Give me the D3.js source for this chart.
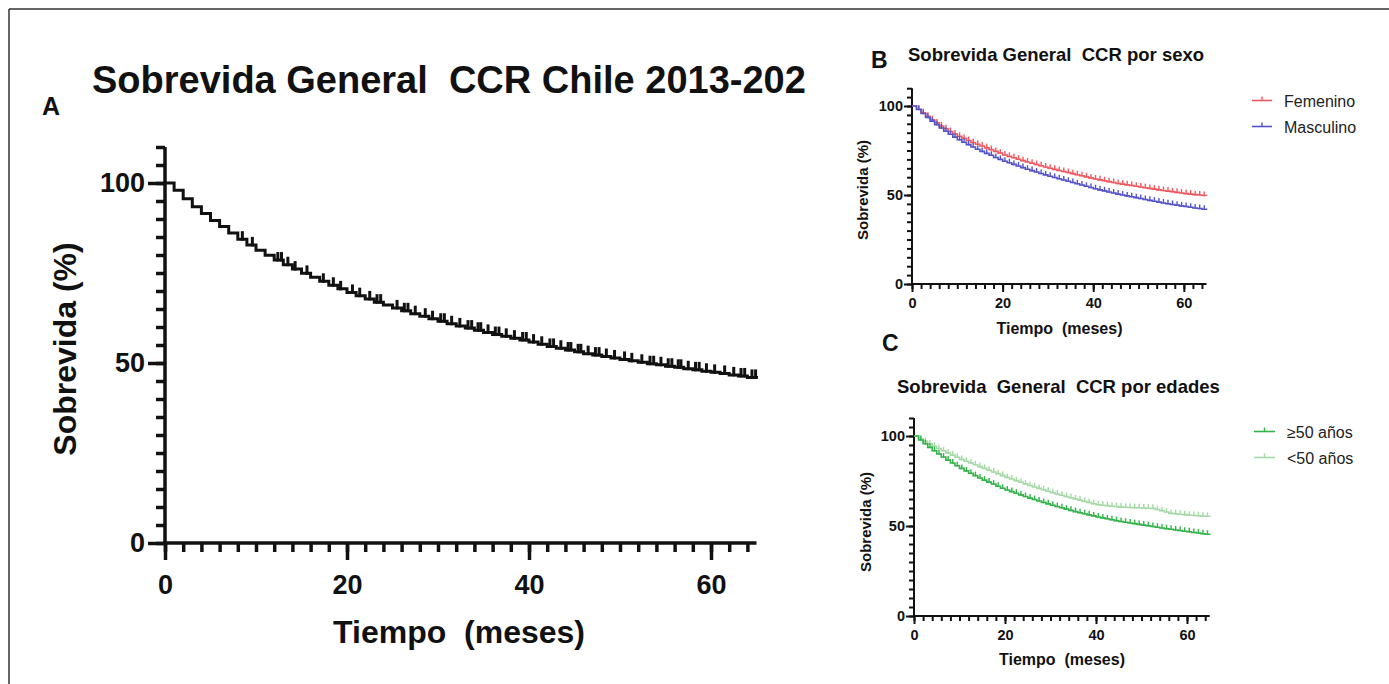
<!DOCTYPE html>
<html>
<head>
<meta charset="utf-8">
<script src="https://cdn.jsdelivr.net/npm/d3@7"></script>
<style>
  html, body { margin: 0; padding: 0; background: #fff; }
  svg { display: block; }
  text { font-family: "Liberation Sans", Arial, Helvetica, sans-serif; white-space: pre; }
</style>
</head>
<body>
<svg id="chart" width="1389" height="684"></svg>
<script>
// ---------------- DATA ----------------
const months = d3.range(0, 66); // 0..65 months
const xTickLabels = [0, 20, 40, 60];
const yTickLabels = [0, 50, 100];

// Panel A: overall survival (%), one value per month
const survGeneral = [100,98,95.6,93.4,91.5,89.6,87.9,86.1,84.4,82.8,
  81.3,79.9,78.6,77.3,76.1,74.9,73.8,72.7,71.6,70.6,
  69.6,68.7,67.8,66.9,66.1,65.3,64.5,63.7,63.0,62.3,
  61.6,60.9,60.3,59.7,59.1,58.5,57.9,57.4,56.9,56.4,
  55.8,55.2,54.6,54.1,53.6,53.1,52.6,52.2,51.8,51.4,
  51.0,50.6,50.2,49.8,49.5,49.1,48.8,48.4,48.1,47.7,
  47.4,47.1,46.7,46.4,46.0,45.6];
const censorGeneral = [8.5,9.6,12.4,12.8,13.5,14.3,15.6,17.4,18.5,19.3,20.6,21.4,22.5,23.3,23.7,
  25.5,26.3,26.7,27.5,28.6,29.4,30.3,30.7,31.5,32.4,33.3,33.7,34.4,34.7,35.5,36.3,36.7,37.5,
  38.4,39.3,39.7,40.5,41.4,42.3,42.7,43.5,44.3,44.6,45.4,45.7,46.5,47.3,47.7,48.5,49.4,50.5,
  51.3,52.4,53.3,53.7,54.5,55.3,55.7,56.4,56.7,57.5,58.3,58.7,59.5,60.4,61.5,62.5,63.3,63.7,64.5,64.9];

// Panel B: by sex
const sexSeries = ["Femenino", "Masculino"];
const survFemenino = [100,98.2,96.2,94.2,92.3,90.5,88.8,87.2,85.7,84.3,
  83.0,81.8,80.6,79.5,78.5,77.5,76.5,75.5,74.5,73.5,
  72.5,71.7,70.9,70.1,69.3,68.5,67.8,67.1,66.4,65.7,
  65.0,64.4,63.8,63.2,62.6,62.0,61.4,60.8,60.2,59.6,
  59.0,58.5,58.0,57.5,57.0,56.5,56.1,55.7,55.3,54.9,
  54.5,54.1,53.7,53.3,52.9,52.5,52.2,51.8,51.5,51.1,
  50.8,50.5,50.2,50.0,49.7,49.4];
const survMasculino = [100,98,95.8,93.6,91.5,89.5,87.6,85.8,84.1,82.5,
  81.0,79.6,78.3,77.0,75.7,74.5,73.4,72.3,71.1,70.0,
  69.0,68.1,67.2,66.3,65.4,64.5,63.7,62.9,62.1,61.3,
  60.5,59.8,59.1,58.4,57.7,57.0,56.3,55.6,54.9,54.2,
  53.5,52.9,52.3,51.7,51.1,50.5,50.0,49.5,49.0,48.5,
  48.0,47.5,47.0,46.5,46.0,45.5,45.1,44.7,44.3,43.9,
  43.5,43.1,42.7,42.4,42.0,41.6];

// Panel C: by age
const ageSeries = ["\u226550 a\u00f1os", "<50 a\u00f1os"];
const survMayor50 = [100,97.8,95.7,93.7,91.8,90.0,88.3,86.6,85.0,83.5,
  82.0,80.6,79.3,78.0,76.7,75.5,74.4,73.3,72.1,71.0,
  70.0,69.1,68.2,67.3,66.4,65.5,64.7,63.9,63.1,62.3,
  61.5,60.8,60.1,59.4,58.7,58.0,57.4,56.8,56.2,55.6,
  55.0,54.5,54.0,53.5,53.0,52.5,52.1,51.7,51.3,50.9,
  50.5,50.1,49.7,49.3,48.9,48.5,48.2,47.8,47.5,47.1,
  46.8,46.4,46.1,45.7,45.4,45.0];
const survMenor50 = [100,98.5,97.0,95.6,94.3,93.0,91.8,90.6,89.4,88.2,
  87.0,86.0,85.0,84.0,83.0,82.0,81.0,80.0,79.0,78.0,
  77.0,76.1,75.2,74.3,73.4,72.5,71.7,70.9,70.1,69.3,
  68.5,67.8,67.1,66.4,65.7,65.0,64.4,63.7,63.1,62.4,
  61.8,61.5,61.3,61.0,60.8,60.5,60.4,60.3,60.2,60.1,
  60.0,59.9,59.8,59.2,58.5,57.8,57.0,56.8,56.5,56.3,
  56.0,55.8,55.7,55.5,55.4,55.2];
const censorSmall = [1.5,2.5,3.5,4.5,5.5,6.5,7.5,8.5,9.5,10.5,11.5,12.5,13.5,14.5,15.5,16.5,
  17.5,18.5,19.5,20.5,21.5,22.5,23.5,24.5,25.5,26.5,27.5,28.5,29.5,30.5,31.5,32.5,33.5,34.5,
  35.5,36.5,37.5,38.5,39.5,40.5,41.5,42.5,43.5,44.5,45.5,46.5,47.5,48.5,49.5,50.5,51.5,52.5,
  53.5,54.5,55.5,56.5,57.5,58.5,59.5,60.5,61.5,62.5,63.5,64.5];

// ---------------- DRAW ----------------
const svg = d3.select("#chart");
const INK = "#111";

// outer frame (top and left edges)
svg.append("line").attr("x1", 9).attr("y1", 9).attr("x2", 1389).attr("y2", 9)
  .attr("stroke", "#333").attr("stroke-width", 1.5);
svg.append("line").attr("x1", 9).attr("y1", 9).attr("x2", 9).attr("y2", 684)
  .attr("stroke", "#333").attr("stroke-width", 1.5);

function panel(cfg) {
  const g = svg.append("g");
  const x = d3.scaleLinear().domain([0, 65]).range(cfg.xr);
  const y = d3.scaleLinear().domain([0, 110]).range(cfg.yr);

  // minor y ticks
  const yMinor = g.append("g").attr("transform", `translate(${cfg.xr[0]},0)`)
    .call(d3.axisLeft(y).tickValues(d3.range(0, 111, 5)).tickSize(cfg.minor).tickFormat(""));
  const yMajor = g.append("g").attr("transform", `translate(${cfg.xr[0]},0)`)
    .call(d3.axisLeft(y).tickValues(yTickLabels).tickSize(cfg.major).tickPadding(cfg.ypad));
  const xMinor = g.append("g").attr("transform", `translate(0,${cfg.yr[0]})`)
    .call(d3.axisBottom(x).tickValues(d3.range(0, 65, 2)).tickSize(cfg.minor).tickFormat(""));
  const xMajor = g.append("g").attr("transform", `translate(0,${cfg.yr[0]})`)
    .call(d3.axisBottom(x).tickValues(xTickLabels).tickSize(cfg.major).tickPadding(cfg.xpad));
  [yMinor, yMajor, xMinor, xMajor].forEach(a => {
    a.select(".domain").attr("stroke", INK).attr("stroke-width", cfg.sw)
      .attr("d", null);
    a.selectAll(".tick line").attr("stroke", INK).attr("stroke-width", cfg.sw);
    a.selectAll("text").attr("fill", INK).style("font-size", cfg.tickFont + "px")
      .style("font-weight", "bold");
  });
  // axis lines (square caps, extend full range)
  g.append("line").attr("x1", cfg.xr[0]).attr("x2", cfg.xr[0])
    .attr("y1", cfg.yr[0] + cfg.sw / 2).attr("y2", cfg.yr[1])
    .attr("stroke", INK).attr("stroke-width", cfg.sw);
  g.append("line").attr("x1", cfg.xr[0] - cfg.sw / 2).attr("x2", cfg.xr[1])
    .attr("y1", cfg.yr[0]).attr("y2", cfg.yr[0])
    .attr("stroke", INK).attr("stroke-width", cfg.sw);
  [yMinor, yMajor, xMinor, xMajor].forEach(a => a.select(".domain").remove());

  const line = d3.line().x(d => x(d[0])).y(d => y(d[1])).curve(d3.curveStepAfter);
  cfg.series.forEach(s => {
    const pts = months.map((m, i) => [m, s.values[i]]);
    g.append("path").datum(pts).attr("d", line)
      .attr("fill", "none").attr("stroke", s.color).attr("stroke-width", cfg.lw);
    g.append("g").selectAll("line").data(s.censor).join("line")
      .attr("x1", t => x(t)).attr("x2", t => x(t))
      .attr("y1", t => y(s.values[Math.floor(t)]) + cfg.lw / 2)
      .attr("y2", t => y(s.values[Math.floor(t)]) - cfg.cens)
      .attr("stroke", s.color).attr("stroke-width", cfg.cw);
  });

  // axis titles
  g.append("text").text(cfg.ylabel)
    .attr("transform", `translate(${cfg.ylx},${cfg.yly}) rotate(-90)`)
    .attr("text-anchor", "middle").attr("fill", INK)
    .style("font-size", cfg.labFont + "px").style("font-weight", "bold");
  g.append("text").text(cfg.xlabel)
    .attr("x", cfg.xlx).attr("y", cfg.xly)
    .attr("text-anchor", "middle").attr("fill", INK)
    .style("font-size", cfg.xlabFont + "px").style("font-weight", "bold");
  return { x, y };
}

// Panel A
panel({
  xr: [165, 756.5], yr: [543, 147], sw: 3.5, major: 17, minor: 9, ypad: 3, xpad: 15,
  tickFont: 27, lw: 3, cw: 3, cens: 8,
  series: [{ values: survGeneral, color: "#111", censor: censorGeneral }],
  ylabel: "Sobrevida (%)", ylx: 76, yly: 349, labFont: 32,
  xlabel: "Tiempo  (meses)", xlx: 459, xly: 643, xlabFont: 32
});
svg.append("text").text("Sobrevida General  CCR Chile 2013-202")
  .attr("x", 92).attr("y", 93).attr("fill", INK)
  .style("font-size", "38px").style("font-weight", "bold");
svg.append("text").text("A").attr("x", 42).attr("y", 115).attr("fill", INK)
  .style("font-size", "25px").style("font-weight", "bold");

// Panel B
const colF = "#ee5a62", colM = "#5454c8";
panel({
  xr: [912, 1206.5], yr: [284, 88.2], sw: 2, major: 8, minor: 5, ypad: 1, xpad: 6,
  tickFont: 14.5, lw: 1.6, cw: 1.4, cens: 4,
  series: [
    { values: survFemenino, color: colF, censor: censorSmall },
    { values: survMasculino, color: colM, censor: censorSmall }
  ],
  ylabel: "Sobrevida (%)", ylx: 868, yly: 190, labFont: 15,
  xlabel: "Tiempo  (meses)", xlx: 1059.5, xly: 334, xlabFont: 16
});
svg.append("text").text("Sobrevida General  CCR por sexo")
  .attr("x", 908).attr("y", 61).attr("fill", INK)
  .style("font-size", "18.5px").style("font-weight", "bold");
svg.append("text").text("B").attr("x", 871).attr("y", 68).attr("fill", INK)
  .style("font-size", "23px").style("font-weight", "bold");

// Panel C
const colOld = "#33b24a", colYoung = "#a5d9a6";
panel({
  xr: [914, 1209.75], yr: [616, 418], sw: 2, major: 8, minor: 5, ypad: 1, xpad: 6,
  tickFont: 14.5, lw: 1.6, cw: 1.4, cens: 4,
  series: [
    { values: survMenor50, color: colYoung, censor: censorSmall },
    { values: survMayor50, color: colOld, censor: censorSmall }
  ],
  ylabel: "Sobrevida (%)", ylx: 871, yly: 522, labFont: 15,
  xlabel: "Tiempo  (meses)", xlx: 1062, xly: 665, xlabFont: 16
});
svg.append("text").text("Sobrevida  General  CCR por edades")
  .attr("x", 897).attr("y", 393).attr("fill", INK)
  .style("font-size", "18.5px").style("font-weight", "bold");
svg.append("text").text("C").attr("x", 882).attr("y", 351).attr("fill", INK)
  .style("font-size", "23px").style("font-weight", "bold");

// Legends
function legend(items, x0, x1, xt, ys) {
  items.forEach((it, i) => {
    const yy = ys[i];
    svg.append("line").attr("x1", x0).attr("x2", x1).attr("y1", yy).attr("y2", yy)
      .attr("stroke", it.color).attr("stroke-width", 1.6);
    svg.append("line").attr("x1", (x0 + x1) / 2).attr("x2", (x0 + x1) / 2)
      .attr("y1", yy).attr("y2", yy - 4).attr("stroke", it.color).attr("stroke-width", 1.4);
    svg.append("text").text(it.name).attr("x", xt).attr("y", yy + 6).attr("fill", "#222")
      .style("font-size", "16px");
  });
}
legend([{ name: sexSeries[0], color: colF }, { name: sexSeries[1], color: colM }],
  1252, 1272, 1284, [100.5, 126.5]);
legend([{ name: ageSeries[0], color: colOld }, { name: ageSeries[1], color: colYoung }],
  1254, 1275, 1287, [431.5, 457.5]);
</script>
</body>
</html>
